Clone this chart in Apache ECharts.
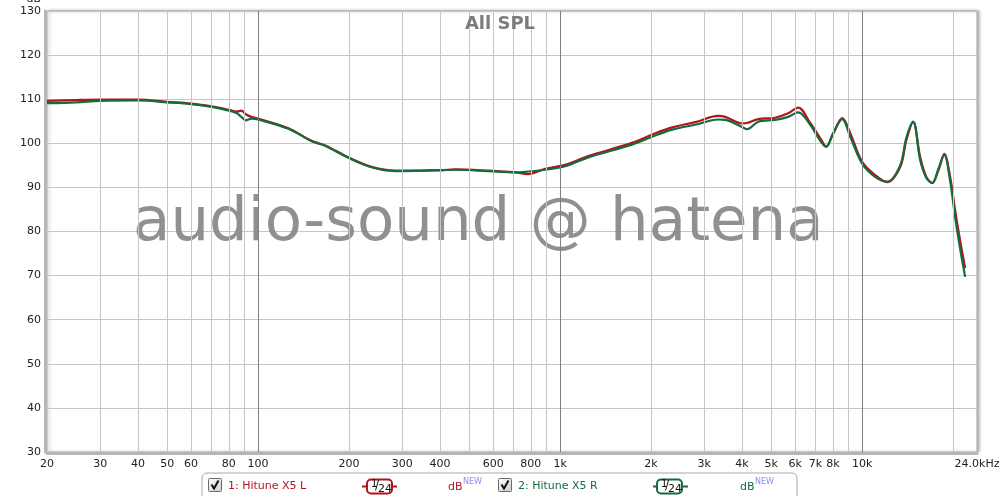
<!DOCTYPE html>
<html><head><meta charset="utf-8">
<script src="https://cdn.jsdelivr.net/npm/echarts@6.0.0/dist/echarts.min.js"></script>
<style>html,body{margin:0;padding:0;background:#fff}#chart{width:1000px;height:496px}</style>
</head><body><div id="chart"></div>
<script>
// ---- data ----
const freqHz = [20, 25, 30, 40, 50, 60, 71, 80, 85, 88, 91, 95, 100, 126, 151, 167, 199, 239, 284, 350, 406, 450, 578, 710, 783, 892, 1040, 1240, 1730, 2020, 2350, 2800, 3340, 3520, 4030, 4160, 4530, 5150, 5690, 6140, 6730, 7260, 7600, 8000, 8590, 9130, 10000, 11040, 12100, 13360, 14000, 14750, 15560, 16300, 17060, 17900, 18700, 19550, 20300, 21080, 21930];
const splLeft = [109.6, 109.8, 109.9, 109.9, 109.4, 109.0, 108.3, 107.6, 107.2, 107.4, 106.6, 106.0, 105.6, 103.4, 100.5, 99.5, 96.8, 94.6, 93.8, 93.8, 93.9, 94.1, 93.8, 93.4, 93.0, 94.2, 95.1, 97.1, 100.1, 102.0, 103.6, 104.8, 106.2, 106.0, 104.5, 104.6, 105.5, 105.8, 106.8, 108.1, 104.6, 101.2, 99.3, 102.0, 105.7, 102.3, 95.8, 92.8, 91.2, 94.6, 100.7, 104.8, 96.9, 92.4, 91.0, 94.0, 97.6, 92.4, 84.9, 78.1, 71.7];
const splRight = [109.1, 109.3, 109.6, 109.7, 109.3, 108.9, 108.2, 107.4, 106.8, 106.0, 105.2, 105.6, 105.4, 103.3, 100.4, 99.4, 96.7, 94.5, 93.7, 93.8, 93.9, 94.0, 93.7, 93.4, 93.6, 94.0, 94.8, 96.8, 99.7, 101.5, 103.1, 104.2, 105.4, 105.3, 103.6, 103.2, 104.9, 105.3, 106.0, 107.0, 104.2, 100.6, 99.2, 102.2, 105.5, 101.5, 95.4, 92.4, 91.3, 95.0, 101.2, 104.9, 96.2, 92.2, 91.0, 94.3, 97.3, 91.5, 83.4, 76.3, 69.7];
const seriesNames = ['1: Hitune X5 L', '2: Hitune X5 R'];
const xLabelValues = [20, 30, 40, 50, 60, 80, 100, 200, 300, 400, 600, 800, 1000, 2000, 3000, 4000, 5000, 6000, 7000, 8000, 10000, 24000];
const xLabelTexts = ['20', '30', '40', '50', '60', '80', '100', '200', '300', '400', '600', '800', '1k', '2k', '3k', '4k', '5k', '6k', '7k', '8k', '10k', '24.0kHz'];
const xMinorGrid = [30, 40, 50, 60, 70, 80, 90, 200, 300, 400, 500, 600, 700, 800, 900, 2000, 3000, 4000, 5000, 6000, 7000, 8000, 9000, 20000];
const xDecadeGrid = [100, 1000, 10000];
const yMin = 30, yMax = 130, yStep = 10;
const titleText = 'All SPL';
const yUnit = 'dB';
const watermark = 'audio-sound @ hatena';

// ---- chart ----
const chart = echarts.init(document.getElementById('chart'), null, {renderer: 'canvas'});
const font = 'DejaVu Sans';
const red = '#b3141c', green = '#146b3c';

function labelFor(v) {
  for (let i = 0; i < xLabelValues.length; i++) {
    if (Math.abs(xLabelValues[i] - v) / xLabelValues[i] < 1e-4) return xLabelTexts[i];
  }
  return '';
}

function legendGraphics() {
  const g = [];
  g.push({type: 'rect', shape: {x: 202, y: 473, width: 595, height: 40, r: 5}, style: {fill: '#fff', stroke: '#a8a8a8', lineWidth: 1}, z: 10});
  const items = [
    {cb: 208, tx: 228, bl: 362, bx: 367, db: 448, color: red, name: seriesNames[0]},
    {cb: 498, tx: 518, bl: 653, bx: 657, db: 740, color: green, name: seriesNames[1]}
  ];
  items.forEach(it => {
    g.push({type: 'rect', shape: {x: it.cb + 0.5, y: 478.5, width: 13, height: 13, r: 1}, style: {fill: new echarts.graphic.LinearGradient(0, 0, 1, 1, [{offset: 0, color: '#ffffff'}, {offset: 1, color: '#cfcfcf'}]), stroke: '#6a6a6a', lineWidth: 1}, z: 11});
    g.push({type: 'polyline', shape: {points: [[it.cb + 3.5, 484.5], [it.cb + 6, 488.5], [it.cb + 10.5, 480.5]]}, style: {stroke: '#111', lineWidth: 2, fill: null}, z: 12});
    g.push({type: 'text', x: it.tx, y: 486, style: {text: it.name, fill: it.color, font: '11px ' + font, textVerticalAlign: 'middle'}, z: 11});
    g.push({type: 'line', shape: {x1: it.bl, y1: 486.5, x2: it.bl + 35, y2: 486.5}, style: {stroke: it.color, lineWidth: 2}, z: 11});
    g.push({type: 'rect', shape: {x: it.bx, y: 479.5, width: 25, height: 14, r: 4}, style: {fill: '#fff', stroke: it.color, lineWidth: 2}, z: 12});
    g.push({type: 'text', x: it.bx + 4, y: 484, style: {text: '1', fill: '#111', font: '10px ' + font, textVerticalAlign: 'middle'}, z: 13});
    g.push({type: 'text', x: it.bx + 8, y: 486, style: {text: '/', fill: '#111', font: '12px ' + font, textVerticalAlign: 'middle'}, z: 13});
    g.push({type: 'text', x: it.bx + 11, y: 489, style: {text: '24', fill: '#111', font: '11px ' + font, textVerticalAlign: 'middle'}, z: 13});
    g.push({type: 'text', x: it.db, y: 487, style: {text: 'dB', fill: it.color, font: '11px ' + font, textVerticalAlign: 'middle'}, z: 11});
    g.push({type: 'text', x: it.db + 15, y: 482, style: {text: 'NEW', fill: '#8c8cf0', font: '8px ' + font, textVerticalAlign: 'middle'}, z: 11});
  });
  return g;
}

const option = {
  animation: false,
  backgroundColor: '#fff',
  title: {text: titleText, left: 'center', top: 10, textStyle: {fontFamily: font, fontSize: 18, fontWeight: 'bold', color: '#7c7c7c'}},
  grid: {left: 47, right: 23, top: 11, bottom: 44, outerBoundsMode: 'none', containLabel: false, show: true, borderColor: '#a6a6a6', borderWidth: 1, backgroundColor: '#fff', shadowColor: 'rgba(0,0,0,0.3)', shadowBlur: 3, shadowOffsetX: 2, shadowOffsetY: 0},
  xAxis: {
    type: 'log', logBase: 10, min: 20, max: 24000, offset: 1,
    axisLine: {show: true, onZero: false, lineStyle: {color: '#b6b6b6', width: 3}},
    axisTick: {show: false},
    splitLine: {show: false},
    axisLabel: {customValues: xLabelValues, formatter: labelFor, margin: 6, color: '#222', fontFamily: font, fontSize: 11, showMinLabel: true, showMaxLabel: true}
  },
  yAxis: {
    type: 'value', min: yMin, max: yMax, interval: yStep, offset: 2,
    name: yUnit, nameLocation: 'end', nameGap: 6,
    nameTextStyle: {align: 'right', verticalAlign: 'bottom', padding: [0, 4, 0, 0], color: '#222', fontFamily: font, fontSize: 11},
    axisLine: {show: true, lineStyle: {color: '#b6b6b6', width: 3}},
    axisTick: {show: false},
    splitLine: {show: true, lineStyle: {color: '#c6c6c6', width: 1}},
    axisLabel: {margin: 4, color: '#222', fontFamily: font, fontSize: 11}
  },
  graphic: [
    {type: 'text', left: 133, top: 194, z: 1, style: {text: watermark, fill: '#8a8a8a', opacity: 0.95, font: '61px ' + font}}
  ].concat(legendGraphics()),
  series: [
    {
      type: 'line', data: [], z: 1, silent: true,
      markLine: {
        silent: true, symbol: ['none', 'none'], label: {show: false}, animation: false,
        lineStyle: {color: '#c6c6c6', width: 1, type: 'solid'},
        emphasis: {disabled: true},
        data: xMinorGrid.map(v => ({xAxis: v})).concat(xDecadeGrid.map(v => ({xAxis: v, lineStyle: {color: '#808080', width: 1, type: 'solid'}})))
      }
    },
    {name: seriesNames[0], type: 'line', z: 3, smooth: 0.35, showSymbol: false, data: freqHz.map((f, i) => [f, splLeft[i]]), lineStyle: {color: red, width: 2.2}, itemStyle: {color: red}},
    {name: seriesNames[1], type: 'line', z: 4, smooth: 0.35, showSymbol: false, data: freqHz.map((f, i) => [f, splRight[i]]), lineStyle: {color: green, width: 2.2}, itemStyle: {color: green}}
  ]
};
chart.setOption(option);
</script></body></html>
